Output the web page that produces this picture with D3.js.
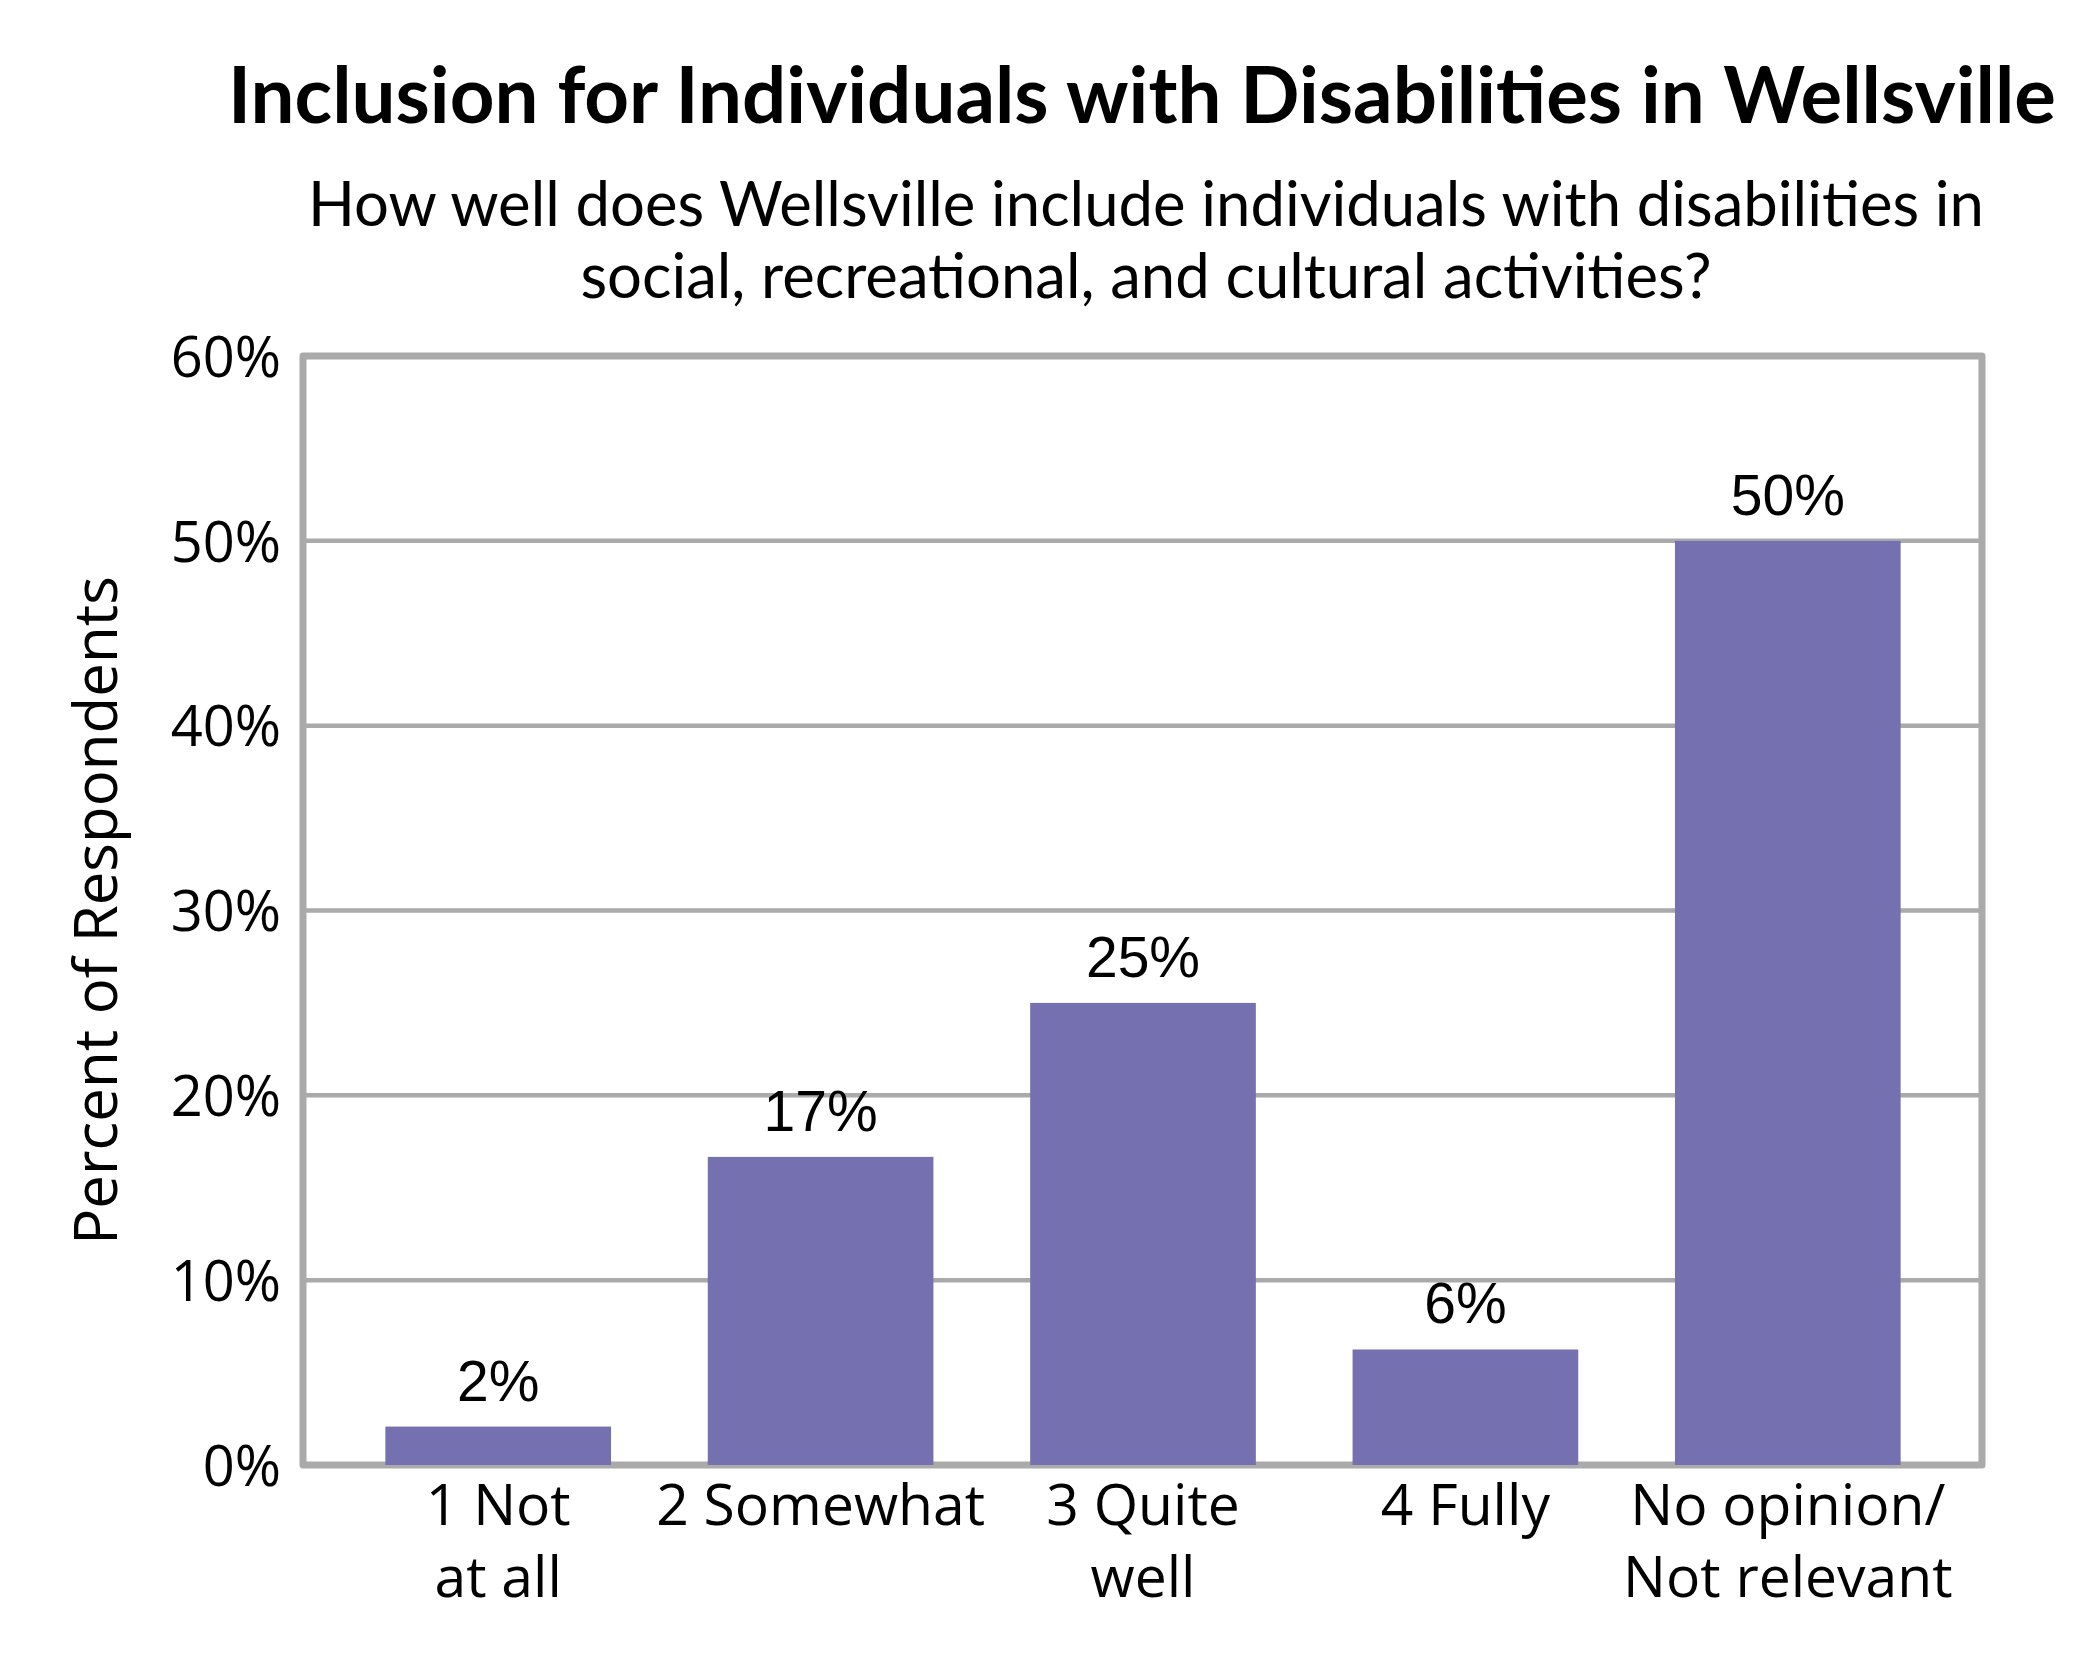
<!DOCTYPE html>
<html>
<head>
<meta charset="utf-8">
<script src="https://cdn.jsdelivr.net/npm/d3@7"></script>
<style>
  html, body { margin: 0; padding: 0; background: #fff; }
  svg { display: block; }
</style>
</head>
<body>
<div id="chart"></div>
<script>
// data
const categories = ["1 Not at all", "2 Somewhat", "3 Quite well", "4 Fully", "No opinion/Not relevant"];
const categoryLines = [["1 Not", "at all"], ["2 Somewhat"], ["3 Quite", "well"], ["4 Fully"], ["No opinion/", "Not relevant"]];
const values = [2.08, 16.67, 25, 6.25, 50];
const valueLabels = ["2%", "17%", "25%", "6%", "50%"];
const yTicks = [0, 10, 20, 30, 40, 50, 60];

const titleText = "Inclusion for Individuals with Disabilities in Wellsville";
const subtitleLines = ["How well does Wellsville include individuals with disabilities in",
                       "social, recreational, and cultural activities?"];
const yTitle = "Percent of Respondents";

// layout
const W = 2100, H = 1680;
const frame = { left: 303, right: 1982, top: 356, bottom: 1465 };
const barColor = "#7571b1";
const lineColor = "#aaaaaa";

const svg = d3.select("#chart").append("svg")
    .attr("width", W)
    .attr("height", H);

const x = d3.scaleBand()
    .domain(categories)
    .range([337, 1949])
    .paddingInner(0.3)
    .paddingOuter(0.15);

const y = d3.scaleLinear()
    .domain([0, 60])
    .range([frame.bottom, frame.top]);

// gridlines
svg.append("g")
    .selectAll("line")
    .data(yTicks.filter(d => d > 0 && d < 60))
    .enter()
    .append("line")
    .attr("x1", frame.left)
    .attr("x2", frame.right)
    .attr("y1", d => y(d))
    .attr("y2", d => y(d))
    .attr("stroke", lineColor)
    .attr("stroke-width", 4.5);

// frame
svg.append("rect")
    .attr("x", frame.left)
    .attr("y", frame.top)
    .attr("width", frame.right - frame.left)
    .attr("height", frame.bottom - frame.top)
    .attr("fill", "none")
    .attr("stroke", lineColor)
    .attr("stroke-width", 7)
    .attr("stroke-linejoin", "round");

// bars
svg.append("g")
    .selectAll("rect")
    .data(values)
    .enter()
    .append("rect")
    .attr("x", (d, i) => x(categories[i]))
    .attr("y", d => y(d))
    .attr("width", x.bandwidth())
    .attr("height", d => y(0) - y(d))
    .attr("fill", barColor);

// value labels
svg.append("g")
    .selectAll("text")
    .data(values)
    .enter()
    .append("text")
    .attr("x", (d, i) => x(categories[i]) + x.bandwidth() / 2)
    .attr("y", d => y(d) - 26)
    .attr("text-anchor", "middle")
    .style("font-family", "'Liberation Sans', Arial, sans-serif")
    .style("font-size", "57px")
    .attr("fill", "#000")
    .text((d, i) => valueLabels[i]);

// y axis labels
const yAxis = svg.append("g")
    .attr("transform", `translate(${frame.left}, 0)`)
    .call(d3.axisLeft(y).tickValues(yTicks).tickSize(0).tickPadding(22).tickFormat(d => d + "%"));
yAxis.select(".domain").remove();
yAxis.selectAll("text")
    .style("font-family", "'Open Sans', sans-serif")
    .style("font-size", "56px")
    .attr("fill", "#000")
    .attr("dy", "0.36em");

// x axis labels
const xLabels = svg.append("g")
    .selectAll("text")
    .data(categoryLines)
    .enter()
    .append("text")
    .attr("x", (d, i) => x(categories[i]) + x.bandwidth() / 2)
    .attr("y", 1525)
    .attr("text-anchor", "middle")
    .style("font-family", "'Open Sans', sans-serif")
    .style("font-size", "57px")
    .attr("fill", "#000");
xLabels.selectAll("tspan")
    .data(d => d)
    .enter()
    .append("tspan")
    .attr("x", function () { return this.parentNode.getAttribute("x"); })
    .attr("dy", (d, i) => i === 0 ? 0 : 72)
    .text(d => d);

// y title
svg.append("text")
    .attr("transform", `translate(94, ${(frame.top + frame.bottom) / 2}) rotate(-90)`)
    .attr("text-anchor", "middle")
    .attr("dominant-baseline", "central")
    .style("font-family", "'Open Sans', sans-serif")
    .style("font-size", "60px")
    .attr("fill", "#000")
    .text(yTitle);

// title + subtitle
svg.append("text")
    .attr("x", 1142)
    .attr("y", 123)
    .attr("text-anchor", "middle")
    .style("font-family", "Lato, sans-serif")
    .style("font-weight", "bold")
    .style("font-size", "78px")
    .attr("fill", "#000")
    .text(titleText);

svg.append("g")
    .selectAll("text")
    .data(subtitleLines)
    .enter()
    .append("text")
    .attr("x", 1146)
    .attr("y", (d, i) => 226 + i * 72)
    .attr("text-anchor", "middle")
    .style("font-family", "Lato, sans-serif")
    .style("font-size", "61.6px")
    .attr("fill", "#000")
    .text(d => d);
</script>
</body>
</html>
